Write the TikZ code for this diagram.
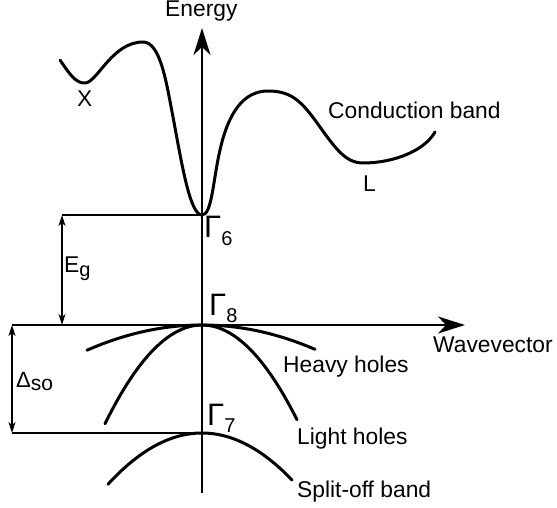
\documentclass[tikz,border=0pt]{standalone}
\usepackage{fontspec}
\setmainfont{Liberation Sans}
\usetikzlibrary{arrows.meta}
\begin{document}
\begin{tikzpicture}[x=1pt,y=-1pt,
  lbl/.style={inner sep=0pt, anchor=base west, font=\fontsize{22.8}{26}\selectfont},
  band/.style={line width=3pt, line cap=round, line join=round},
  axis/.style={line width=1.5pt},
  level/.style={line width=1.3pt},
  bigarrow/.style={-{Stealth[length=27pt,width=17pt,inset=8pt]}},
  dimarrow/.style={{Stealth[length=11pt,width=7pt,inset=3pt]}-{Stealth[length=11pt,width=7pt,inset=3pt]}, line width=1.2pt},
]
\useasboundingbox (0,0) rectangle (557,508);
% coordinates
\coordinate (O) at (202,325);
\coordinate (top) at (202,28);
\coordinate (bot) at (202,493);
\coordinate (right) at (465,325);
\coordinate (left) at (12,325);
\coordinate (g6) at (202,215);
\coordinate (g6l) at (62,215);
\coordinate (g7) at (202,433);
\coordinate (g7l) at (12,433);
\coordinate (egb) at (62,325);
% axes
\draw[axis, bigarrow] (bot) -- (top);
\draw[axis, bigarrow] (left) -- (right);
\draw[level] (g6l) -- (g6);
\draw[level] (g7l) -- (g7);
\draw[dimarrow] (g6l) -- (egb);
\draw[dimarrow] (left) -- (g7l);
% conduction band
\draw[band] (60,60) .. controls (72,78) and (77,83) .. (85,83)
  .. controls (97,83) and (112,42) .. (143,42)
  .. controls (160,42) and (166,80) .. (173,117)
  .. controls (182,165) and (190,215) .. (g6)
  .. controls (212,215) and (213,180) .. (220,150)
  .. controls (229,110) and (245,91) .. (268,91)
  .. controls (290,91) and (300,100) .. (315,120)
  .. controls (335,148) and (345,163) .. (363,163)
  .. controls (395,163) and (425,150) .. (435,132);
% valence bands
\draw[band] plot[domain=-115:113, samples=60] ({202+\x}, {325+0.0019*\x*\x});
\draw[band] plot[domain=-97:95, samples=60] ({202+\x}, {325+0.0105*\x*\x});
\draw[band] plot[domain=-94:90, samples=60] ({202+\x}, {433+0.0058*\x*\x});
% labels
\node[lbl] (energy) at (165,17) {Energy};
\node[lbl] (xl) at (77,107) {X};
\node[lbl] (ll) at (363,192) {L};
\node[lbl] (cb) at (328,119) {Conduction band};
\node[lbl] (wv) at (433,352) {Wavevector};
\node[lbl] (hh) at (283,372) {Heavy holes};
\node[lbl] (lh) at (297,444) {Light holes};
\node[lbl] (so) at (297,497) {Split-off band};
\node[lbl] (G6) at (204,237) {{\fontsize{31}{31}\selectfont Γ}\raisebox{-8pt}{\fontsize{20}{20}\selectfont 6}};
\node[lbl] (G8) at (209,315) {{\fontsize{31}{31}\selectfont Γ}\raisebox{-7pt}{\fontsize{20}{20}\selectfont 8}};
\node[lbl] (G7) at (207,425) {{\fontsize{31}{31}\selectfont Γ}\raisebox{-7pt}{\fontsize{20}{20}\selectfont 7}};
\node[lbl] (Eg) at (64,272) {E\raisebox{-4pt}{\fontsize{20}{20}\selectfont g}};
\node[lbl] (Dso) at (16,387) {{\fontsize{22}{22}\selectfont Δ}\raisebox{-3pt}{\fontsize{21}{21}\selectfont so}};
\end{tikzpicture}
\end{document}
